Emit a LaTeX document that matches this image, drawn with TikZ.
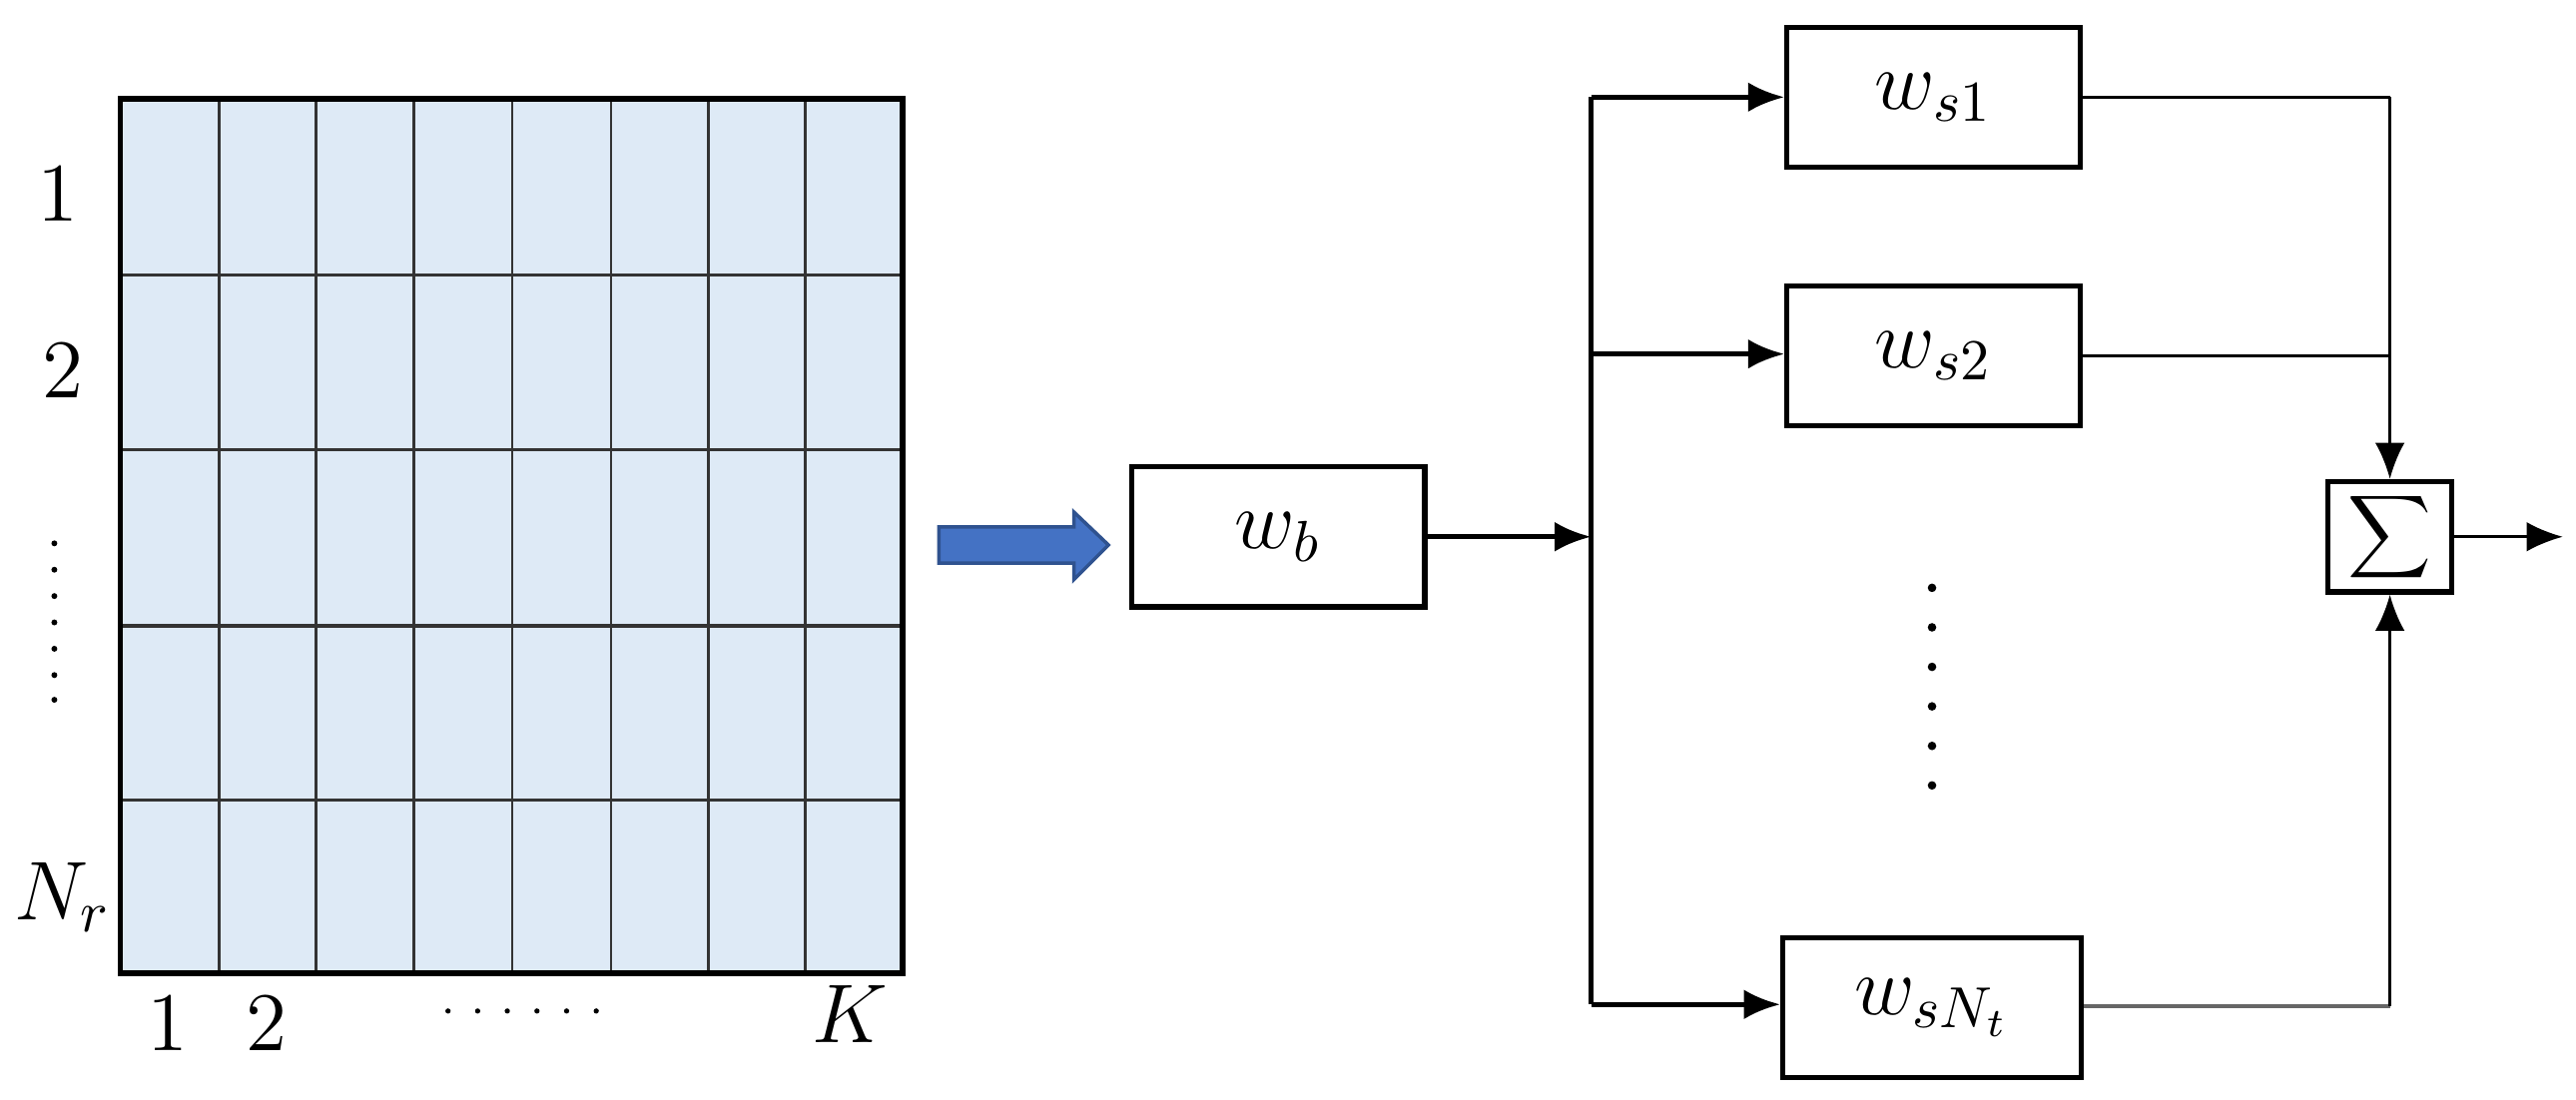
\documentclass[tikz,border=0pt]{standalone}
\usetikzlibrary{arrows.meta}
\definecolor{cellblue}{HTML}{DEEAF6}
\definecolor{arrblue}{HTML}{4472C4}
\definecolor{arredge}{HTML}{2F528F}
\begin{document}
\begin{tikzpicture}[x=0.01cm,y=-0.01cm,
  box/.style={draw,line width=0.9pt,minimum width=1.78cm,minimum height=0.85cm,inner sep=0pt,font=\Large},
  lab/.style={font=\Large},
  arr/.style={-{Latex[length=2.2mm,width=1.8mm]},line width=0.9pt},
  thin/.style={line width=0.5pt}]
\useasboundingbox (0,0) rectangle (1564,668);
% grid
\fill[cellblue] (73,60) rectangle (548,591);
\foreach \x in {133,192,251,311,371,430,489} \draw[thin,black!80] (\x,60) -- (\x,591);
\foreach \y in {167,273,380,486} \draw[black!80,line width=0.6pt] (73,\y) -- (548,\y);
\draw[line width=1pt] (73,60) rectangle (548,591);
\node[lab] (r1) at (35,118) {$1$};
\node[lab] (r2) at (38,225) {$2$};
\foreach \y in {330,346,362,378,394,410,425} \fill (33,\y) circle (1.8);
\node[lab] (rn) at (38,545) {$N_r$};
\node[lab] (c1) at (102,622) {$1$};
\node[lab] (c2) at (162,622) {$2$};
\foreach \x in {272,281,290,299,308,317,326,335,344,353,362} {}
\foreach \x in {272,290,308,326,344,362} \fill (\x,614) circle (1.6);
\node[lab] (ck) at (516,616) {$K$};
% blue arrow
\path[fill=arrblue,draw=arredge,line width=0.6pt] (570,320) -- (652,320) -- (652,311) -- (673,331) -- (652,352) -- (652,342) -- (570,342) -- cycle;
\node[box] (wb) at (776,326) {$w_b$};
\coordinate (bus) at (966,326);
\draw[arr] (wb.east) -- (bus);
\node[box] (s1) at (1174,59) {$w_{s1}$};
\node[box] (s2) at (1174,216) {$w_{s2}$};
\node[box,minimum width=1.81cm] (sn) at (1173,612) {$w_{sN_t}$};
\coordinate (t1) at (966,59);
\coordinate (t2) at (966,215);
\coordinate (tn) at (966,610);
\draw[line width=0.9pt] (t1) -- (tn);
\draw[arr] (t1) -- (s1.west);
\draw[arr] (t2) -- (s2.west |- t2);
\draw[arr] (tn) -- (sn.west |- tn);
\foreach \y in {357,381,405,429,453,477} \fill (1173,\y) circle (2.6);
\node[draw,line width=0.9pt,minimum width=0.75cm,minimum height=0.67cm,inner sep=0pt,font=\LARGE] (sum) at (1451,326) {$\displaystyle\sum$};
\coordinate (j1) at (1451,59);
\coordinate (jn) at (1451,611);
\coordinate (out) at (1556,326);
\draw[thin] (s1.east) -- (j1);
\draw[thin,-{Latex[length=2.2mm,width=1.8mm]}] (j1) -- (sum.north);
\draw[thin] (s2.east) -- (s2.east -| j1);
\draw[thin,black!60,line width=0.7pt] (sn.east |- jn) -- (jn);
\draw[thin,-{Latex[length=2.2mm,width=1.8mm]}] (jn) -- (sum.south);
\draw[thin,-{Latex[length=2.2mm,width=1.8mm]}] (sum.east) -- (out);
\end{tikzpicture}
\end{document}
